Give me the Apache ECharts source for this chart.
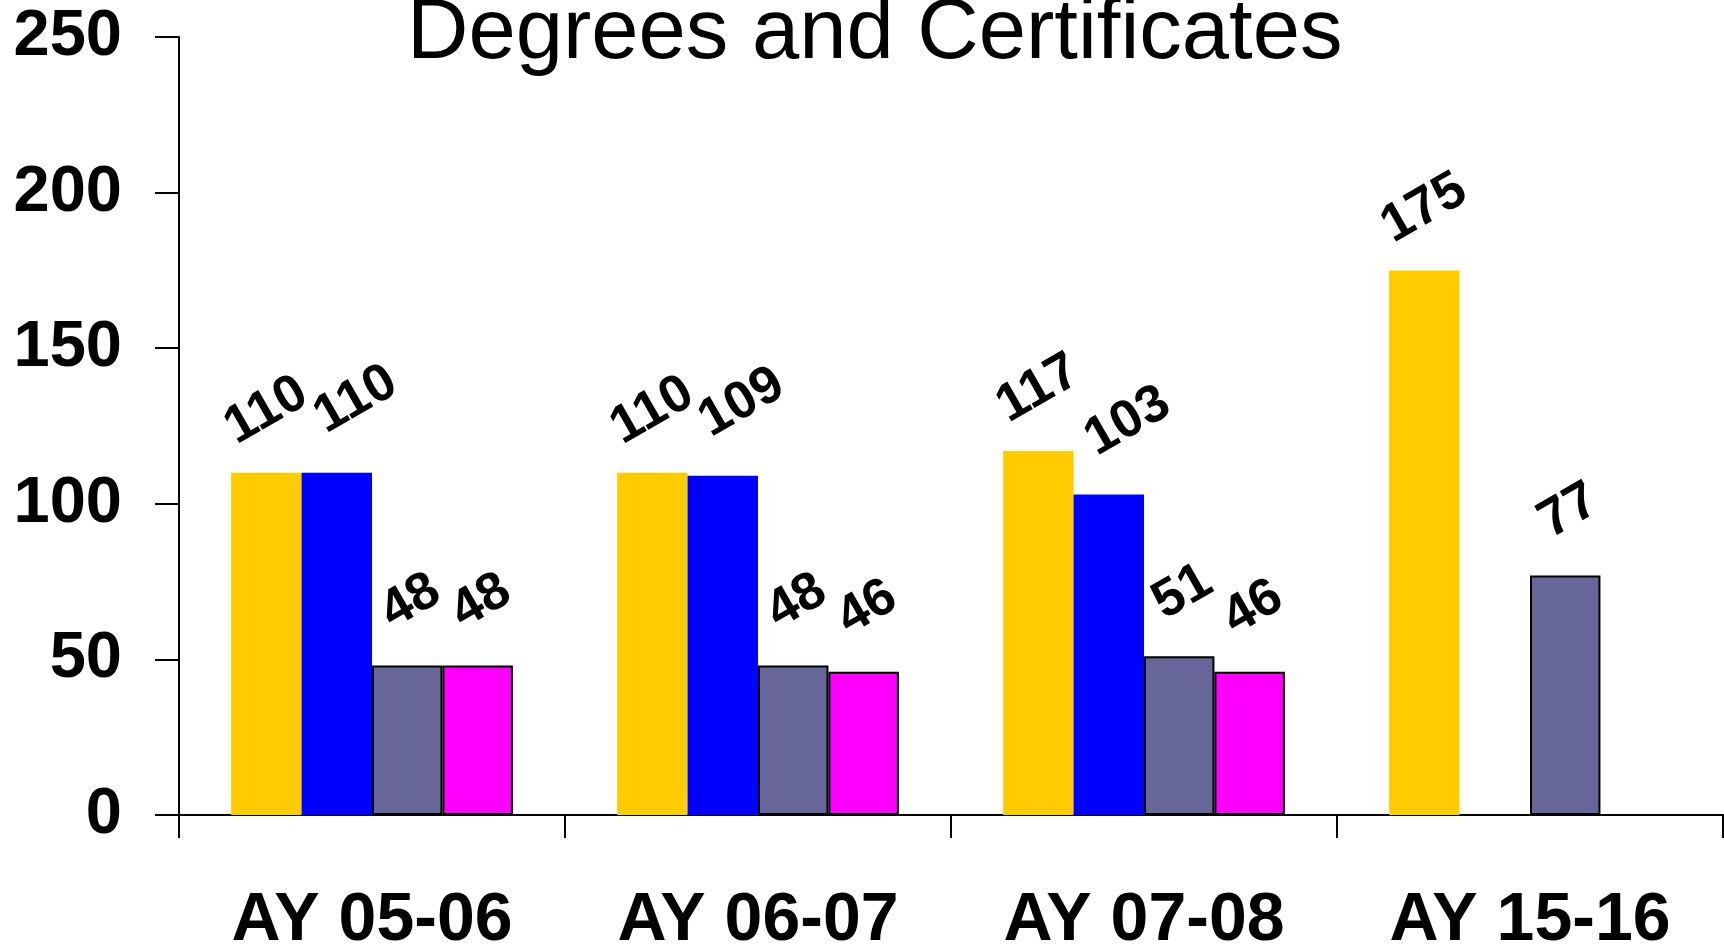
<!DOCTYPE html>
<html>
<head>
<meta charset="utf-8">
<script src="https://cdn.jsdelivr.net/npm/echarts@6/dist/echarts.min.js"></script>
<style>
html,body{margin:0;padding:0;background:#fff;}
#chart{width:1724px;height:951px;}
</style>
</head>
<body>
<div id="chart"></div>
<script>
const titleText = 'Degrees and Certificates';
const categories = ['AY 05-06', 'AY 06-07', 'AY 07-08', 'AY 15-16'];
const yTicks = [0, 50, 100, 150, 200, 250];
const seriesNames = ['Series 1', 'Series 2', 'Series 3', 'Series 4'];
const series1 = [110, 110, 117, 175];
const series2 = [110, 109, 103, null];
const series3 = [48, 48, 51, 77];
const series4 = [48, 46, 46, null];

const FONT = '"Liberation Sans", Arial, Helvetica, sans-serif';
const colors = ['#FFCC00', '#0000FF', '#666699', '#FF00FF'];
const borders = [0, 0, 2, 2];
const labelOffsets = [[0, 0], [22, 0], [4, 0], [4, 0]];
const allData = [series1, series2, series3, series4];

const chart = echarts.init(document.getElementById('chart'));
chart.setOption({
  backgroundColor: '#ffffff',
  animation: false,
  title: {
    text: titleText,
    left: 407,
    top: -8,
    padding: 0,
    textStyle: {fontFamily: FONT, fontSize: 85, fontWeight: 'normal', color: '#000'}
  },
  grid: {left: 179, right: 1, top: 37, bottom: 136, containLabel: false, outerBoundsMode: 'none'},
  xAxis: {
    type: 'category',
    data: categories,
    axisLine: {show: true, lineStyle: {color: '#000', width: 2}},
    axisTick: {show: true, length: 23, alignWithLabel: false, lineStyle: {color: '#000', width: 2}},
    axisLabel: {margin: 72, fontFamily: FONT, fontSize: 68, fontWeight: 'bold', color: '#000', interval: 0},
    splitLine: {show: false}
  },
  yAxis: {
    type: 'value',
    min: yTicks[0],
    max: yTicks[yTicks.length - 1],
    interval: yTicks[1] - yTicks[0],
    axisLine: {show: true, lineStyle: {color: '#000', width: 2}},
    axisTick: {show: true, length: 24, lineStyle: {color: '#000', width: 2}},
    axisLabel: {margin: 57, fontFamily: FONT, fontSize: 65, fontWeight: 'bold', color: '#000'},
    splitLine: {show: false}
  },
  series: allData.map((d, i) => ({
    name: seriesNames[i],
    type: 'bar',
    data: d,
    barGap: '0%',
    barCategoryGap: '27%',
    itemStyle: {color: colors[i], borderColor: '#000', borderWidth: borders[i]},
    label: {
      show: true,
      position: 'top',
      distance: 62,
      rotate: 30,
      align: 'center',
      verticalAlign: 'middle',
      offset: labelOffsets[i],
      fontFamily: FONT,
      fontSize: 53,
      fontWeight: 'bold',
      color: '#000'
    }
  }))
});
</script>
</body>
</html>
